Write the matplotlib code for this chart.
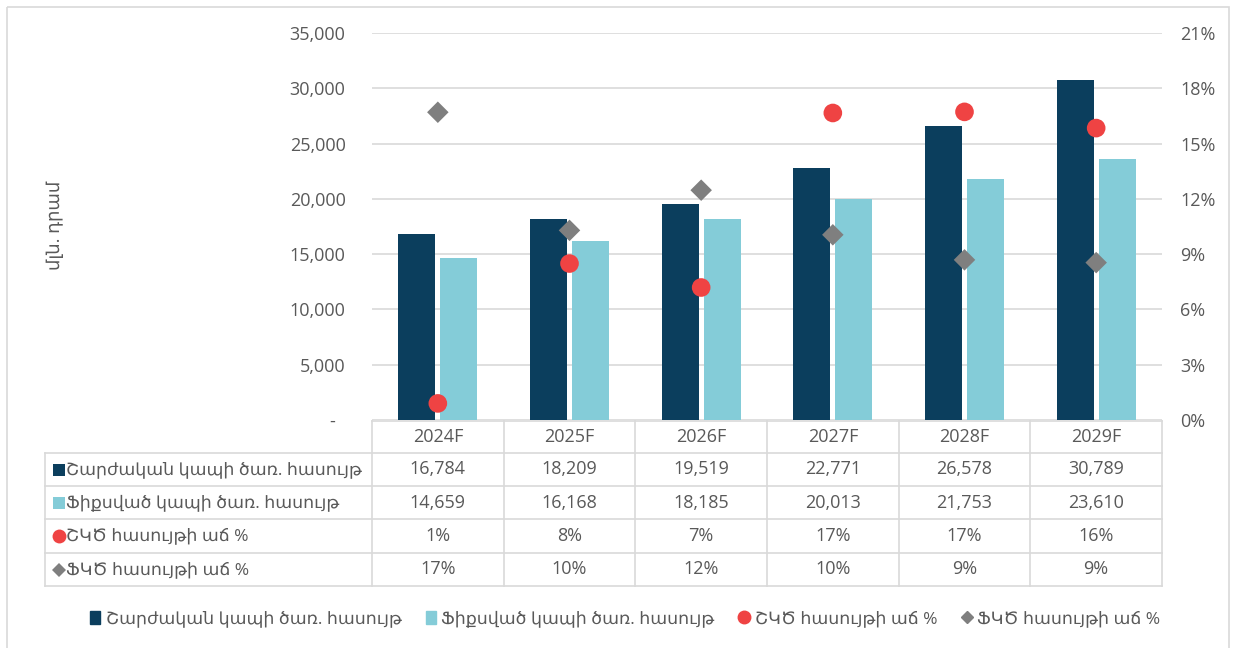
import matplotlib
matplotlib.use("Agg")
from matplotlib import pyplot as plt
from matplotlib.patches import Rectangle
from matplotlib.lines import Line2D
from matplotlib.ticker import FuncFormatter, PercentFormatter

years = ["2024F", "2025F", "2026F", "2027F", "2028F", "2029F"]
mobile = [16784, 18209, 19519, 22771, 26578, 30789]
fixed = [14659, 16168, 18185, 20013, 21753, 23610]
mobile_growth = [0.009, 0.0849, 0.0719, 0.1666, 0.1672, 0.1584]
fixed_growth = [0.167, 0.1029, 0.1247, 0.1005, 0.0869, 0.0854]

names = ["Շարժական կապի ծառ. հասույթ", "Ֆիքսված կապի ծառ. հասույթ",
         "ՇԿԾ հասույթի աճ %", "ՖԿԾ հասույթի աճ %"]
ylabel = "մլն. դրամ"

c_dark = "#0b3e5d"
c_light = "#84ccd8"
c_red = "#ef4343"
c_grey = "#7f7f7f"
c_text = "#595959"
c_line = "#d9d9d9"

plt.rcParams["font.family"] = ["Open Sans", "DejaVu Sans"]
plt.rcParams["font.size"] = 13

W, H = 1234, 648
fig = plt.figure(figsize=(W / 100, H / 100), dpi=100)

def box(x0, y0, x1, y1):
    return [x0 / W, 1 - y1 / H, (x1 - x0) / W, (y1 - y0) / H]

# main plot
ax = fig.add_axes(box(372, 33, 1162, 420))
x = list(range(len(years)))
ax.bar([i - 0.16 for i in x], mobile, width=0.28, color=c_dark, zorder=3)
ax.bar([i + 0.16 for i in x], fixed, width=0.28, color=c_light, zorder=3)
ax.set_xlim(-0.5, len(years) - 0.5)
ax.set_ylim(0, 35000)
ax.set_yticks(range(0, 35001, 5000))
ax.yaxis.set_major_formatter(FuncFormatter(lambda v, p: "-  " if v == 0 else f"{v:,.0f}"))
ax.grid(axis="y", color=c_line, lw=1.2, zorder=0)
ax.set_xticks([])
for s in ax.spines.values():
    s.set_visible(False)
ax.tick_params(axis="y", length=0, pad=19, colors=c_text, labelsize=13)

ax2 = ax.twinx()
ax2.scatter(x, mobile_growth, s=180, color=c_red, marker="o", zorder=4, edgecolors="none")
ax2.scatter(x, fixed_growth, s=120, color=c_grey, marker="D", zorder=4, edgecolors="none")
ax2.set_ylim(0, 0.21)
ax2.set_yticks([i * 0.03 for i in range(8)])
ax2.yaxis.set_major_formatter(PercentFormatter(1.0, decimals=0))
for s in ax2.spines.values():
    s.set_visible(False)
ax2.tick_params(axis="y", length=0, pad=13, colors=c_text, labelsize=13)

fig.text(55 / W, 1 - 225 / H, ylabel, rotation=90, ha="center", va="center",
         color=c_text, fontsize=13)

# data table under the plot
tb = fig.add_axes([0, 0, 1, 1], zorder=-1)
tb.set_xlim(0, W)
tb.set_ylim(H, 0)
tb.axis("off")

col0, col_w = 372, (1162 - 372) / len(years)
rows_y = [421, 453, 486, 519, 553, 586]
tb.plot([col0, 1162], [rows_y[0], rows_y[0]], color=c_line, lw=1.2)
for r in rows_y[1:]:
    tb.plot([45, 1162], [r, r], color=c_line, lw=1.2)
tb.plot([45, 45], [rows_y[1], rows_y[-1]], color=c_line, lw=1.2)
for j in range(len(years) + 1):
    xx = col0 + j * col_w
    tb.plot([xx, xx], [rows_y[0], rows_y[-1]], color=c_line, lw=1.2)

cells = [years,
         [f"{v:,}" for v in mobile],
         [f"{v:,}" for v in fixed],
         [f"{v:.0%}" for v in mobile_growth],
         [f"{v:.0%}" for v in fixed_growth]]
for r, row in enumerate(cells):
    yc = (rows_y[r] + rows_y[r + 1]) / 2
    for j, t in enumerate(row):
        tb.text(col0 + (j + 0.5) * col_w, yc, t, ha="center", va="center",
                color=c_text, fontsize=13)

markers = [("s", c_dark, 9), ("s", c_light, 9), ("o", c_red, 10), ("D", c_grey, 7)]
for r, (name, (m, c, ms)) in enumerate(zip(names, markers)):
    yc = (rows_y[r + 1] + rows_y[r + 2]) / 2
    tb.plot([59], [yc], marker=m, color=c, markersize=ms, markeredgewidth=0)
    tb.text(66, yc, name, ha="left", va="center", color=c_text, fontsize=12.5)

# outer frame
tb.add_patch(Rectangle((7, 7), 1222, 700, fill=False, edgecolor=c_line, lw=1.2))

# legend
handles = [Rectangle((0, 0), 1, 1, color=c_dark),
           Rectangle((0, 0), 1, 1, color=c_light),
           Line2D([], [], ls="none", marker="o", color=c_red, markersize=9),
           Line2D([], [], ls="none", marker="D", color=c_grey, markersize=6)]
fig.legend(handles, names, loc="center", bbox_to_anchor=(625 / W, 1 - 619 / H),
           ncol=4, frameon=False, handlelength=0.6, handleheight=0.8,
           handletextpad=0.3, columnspacing=1.4, labelcolor=c_text, fontsize=12.5)

fig.savefig("out.png", dpi=100)
